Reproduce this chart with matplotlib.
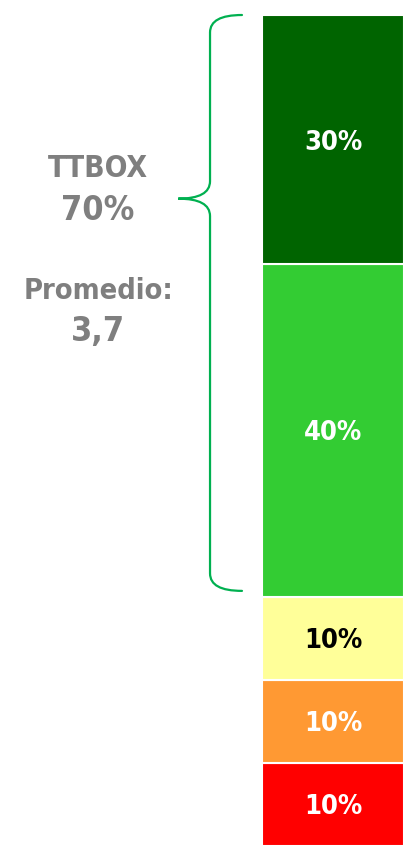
import matplotlib
matplotlib.use("Agg")
import matplotlib.pyplot as plt
from matplotlib.path import Path
from matplotlib.patches import PathPatch
from matplotlib.transforms import offset_copy

plt.rcParams['font.family'] = ['DejaVu Sans']
plt.rcParams['font.stretch'] = 'condensed'

# Stacked distribution, bottom to top
segments = ["1", "2", "3", "4", "5"]
values = [10, 10, 10, 40, 30]
colors = ["#FF0000", "#FF9933", "#FFFF99", "#33CC33", "#006400"]
text_colors = ["white", "white", "black", "white", "white"]

top_box_label = "TTBOX"
top_box_value = "70%"
average_label = "Promedio:"
average_value = "3,7"

W, H = 404, 850
fig = plt.figure(figsize=(W / 100, H / 100), dpi=100)

# bar occupies the right strip of the figure
ax = fig.add_axes([262 / W, 1 - 846 / H, 142 / W, 831 / H])
ax.set_xlim(-0.5, 0.5)
ax.set_ylim(0, sum(values))
ax.axis("off")

label_tf = offset_copy(ax.transData, fig=fig, y=-10, units="dots")
bottom = 0
for v, c, tc in zip(values, colors, text_colors):
    ax.bar(0, v, width=1.0, bottom=bottom, color=c, edgecolor="white",
           linewidth=1.5, clip_on=False)
    ax.text(0, bottom + v / 2, f"{v}%", ha="center", va="baseline",
            transform=label_tf, color=tc, fontsize=19.5, fontweight="bold")
    bottom += v

# curly brace spanning the two top categories
y_lo = sum(values[:3]) + 0.7
y_hi = sum(values)
y_tip = 77.9
r = 2.1
x_end, x_v, x_tip = -0.641, -0.866, -1.09
verts = [
    (x_end, y_hi), (x_v, y_hi), (x_v, y_hi - r),
    (x_v, y_tip + r),
    (x_v, y_tip), (x_tip, y_tip),
    (x_v, y_tip), (x_v, y_tip - r),
    (x_v, y_lo + r),
    (x_v, y_lo), (x_end, y_lo),
]
codes = [Path.MOVETO, Path.CURVE3, Path.CURVE3, Path.LINETO,
         Path.CURVE3, Path.CURVE3, Path.CURVE3, Path.CURVE3,
         Path.LINETO, Path.CURVE3, Path.CURVE3]
brace = PathPatch(Path(verts, codes), facecolor="none", edgecolor="#00B050",
                  linewidth=1.6, clip_on=False, capstyle="round")
ax.add_patch(brace)

gray = "#7F7F7F"
cx = 98 / W
fig.text(cx, 1 - 177 / H, top_box_label, ha="center", va="baseline",
         color=gray, fontsize=21.5, fontweight="bold")
fig.text(cx, 1 - 220 / H, top_box_value, ha="center", va="baseline",
         color=gray, fontsize=24.5, fontweight="bold")
fig.text(cx, 1 - 299 / H, average_label, ha="center", va="baseline",
         color=gray, fontsize=20.8, fontweight="bold")
fig.text(cx, 1 - 341 / H, average_value, ha="center", va="baseline",
         color=gray, fontsize=24.5, fontweight="bold")

fig.savefig("out.png", dpi=100, facecolor="white")
